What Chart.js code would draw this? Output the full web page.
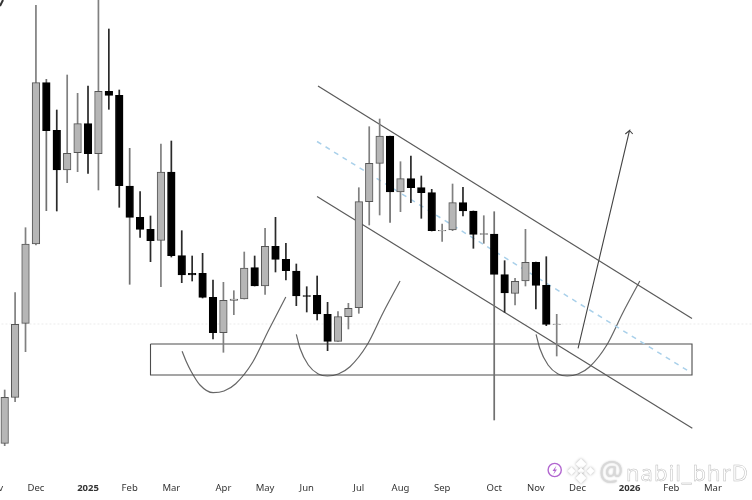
<!DOCTYPE html>
<html><head><meta charset="utf-8">
<style>html,body{margin:0;padding:0;background:#fff;overflow:hidden;width:752px;height:500px}
canvas{position:absolute;left:-20px;top:0;filter:blur(0.5px)}</style>
<script src="https://cdn.jsdelivr.net/npm/chart.js@4"></script>
</head><body><canvas id="c" width="772" height="500"></canvas>
<script>
const open_=[34.7,80.7,154.7,234,395.3,347.7,308,325.3,354.3,324.3,386.7,382.7,292,260.7,248.7,237.7,306,222.3,204.7,204.7,180.7,145.3,177.7,179,210.3,192,231.7,218.7,207,182.3,182.7,163.7,136.7,161.3,170.3,276.3,314.7,342,286,299.3,290.3,285.3,247.7,248,275.3,267,244.3,244,203.3,184.7,197,215.7,192.7,154];
const close_=[80.7,153.7,234,395.3,347.3,308,324.7,354.3,324.3,386.7,382.7,292.3,260.7,248.7,237.3,306,222.3,203,203,180.7,145.3,177.7,179,210,192,231.7,218.7,207.3,182,181.5,164,136.7,161.3,169.7,276.3,314.7,342,286,299.3,290.3,285.3,247.3,247,275.3,267,243.7,243.7,203.7,185,196.7,215.7,192.7,153.7,153.5];
const high_=[88,185.3,250.3,472.7,398.7,368,403,384.7,392,483,449,388,329.7,286.3,262,334,337,247.3,222,224.7,198,195.7,187.3,226,222,249.7,260.7,234.7,214,191.3,202,175.7,166.3,174.7,290.3,351.3,359,342,316.3,322,302,288.7,254,294,290.7,267,262.3,266.3,217.3,199.7,248.7,216,221.3,163.7];
const low_=[32.3,76.3,126.3,233,267.3,267,295.3,306.3,304.7,288,368.7,270.7,193.7,240.7,216.3,191.3,221,195.3,197,180,139,125.7,163.3,179,192,183.7,206,198,172.3,166,158,127.3,136.7,149,164.7,253,263,255.7,266.3,275.3,259.7,247,236.7,247.3,262,229.7,234.7,58,165.7,173,192,169,152.3,122];
const grayDoji=[42,46,53];
const grayWick=[4,12,37,47];
const tickPositions=[-1,3,8,12,16,21,25,29,34,38,42,47,51,55,60,64,68];
const tickLabels=["Nov","Dec","2025","Feb","Mar","Apr","May","Jun","Jul","Aug","Sep","Oct","Nov","Dec","2026","Feb","Mar"];
const upperChannel=[{x:30.08,y:392},{x:65.99,y:159.5}];
const lowerChannel=[{x:29.99,y:281.5},{x:66.02,y:49.7}];
const midChannel=[{x:29.99,y:336.5},{x:65.87,y:105.5}];
const zoneBox=[{x:14,y:134},{x:65.99,y:134},{x:65.99,y:103},{x:14,y:103},{x:14,y:134}];
const arrowPath=[{x:55.05,y:129.7},{x:59.99,y:347.5},{x:59.59,y:344},{x:59.99,y:347.5},{x:60.3,y:344}];
const curveA=[{x:17.03,y:126.7},{x:17.41,y:117},{x:17.88,y:107},{x:18.75,y:93},{x:20.01,y:85.3},{x:21.06,y:87},{x:22.18,y:94.3},{x:23.82,y:116},{x:25.35,y:148},{x:26.99,y:181}];
const curveB=[{x:28,y:143.7},{x:28.35,y:129.7},{x:29.15,y:113},{x:30.11,y:104},{x:30.98,y:102},{x:32.03,y:104},{x:33.15,y:111.3},{x:34.79,y:133},{x:36.32,y:165},{x:37.96,y:197}];
const curveC=[{x:51.02,y:143.7},{x:51.37,y:129.7},{x:52.17,y:113},{x:53.13,y:104},{x:54,y:102},{x:55.05,y:104},{x:56.17,y:111.3},{x:57.81,y:133},{x:59.34,y:165},{x:60.98,y:197}];
const priceLine=[{x:-3,y:154},{x:72,y:154}];
const cornerMark=[{x:-0.45,y:472},{x:-0.16,y:478}];

const idx=open_.map((_,i)=>i);
const isUp=i=>close_[i]>open_[i]||grayDoji.includes(i);
const wickData=idx.map(i=>({x:i,y:[low_[i],high_[i]]}));
const bodyData=idx.map(i=>({x:i,y:[open_[i],close_[i]]}));
const line=(data,extra)=>Object.assign({type:'line',data,borderColor:'#5a5a5a',borderWidth:1.2,pointRadius:0,fill:false,tension:0,order:5},extra||{});
const smooth={cubicInterpolationMode:'monotone',borderColor:'#666'};

const watermark={id:'watermark',afterDraw(chart){
  const c=chart.ctx,ox=20;c.save();
  c.strokeStyle='#b267d0';c.lineWidth=1.4;c.beginPath();c.arc(554.7+ox,470,6.6,0,Math.PI*2);c.stroke();
  c.fillStyle='#b267d0';c.beginPath();
  const bolt=[[556.5,465.5],[552.5,471],[554.7,471],[553.2,474.8],[557,469.4],[554.9,469.4]];
  bolt.forEach((p,i)=>i?c.lineTo(p[0]+ox,p[1]):c.moveTo(p[0]+ox,p[1]));c.closePath();c.fill();
  c.shadowColor='rgba(0,0,0,.35)';c.shadowBlur=3;c.fillStyle='#fff';
  const dia=(x,y,r)=>{c.beginPath();c.moveTo(x+ox,y-r);c.lineTo(x+r+ox,y);c.lineTo(x+ox,y+r);c.lineTo(x-r+ox,y);c.closePath();c.fill();};
  dia(581,464,5.5);dia(571.5,471,4);dia(590.5,471,4);dia(581,471,3.5);dia(581,478,5.5);
  c.shadowColor='rgba(0,0,0,.22)';c.shadowBlur=2;
  c.font='27px "Noto Sans"';c.textBaseline='alphabetic';c.fillStyle='#d8d8d8';
  c.fillText('@',599+ox,481);
  c.shadowBlur=0;
  c.font='22px "Noto Sans"';c.letterSpacing='1px';c.fillStyle='#fff';c.strokeStyle='#bdbdbd';c.lineWidth=0.5;
  c.fillText('nabil_bhrD',626+ox,481);c.strokeText('nabil_bhrD',626+ox,481);
  c.restore();
}};

new Chart(document.getElementById('c'),{
  type:'bar',
  data:{datasets:[
    {data:bodyData,barThickness:7.6,grouped:false,order:1,
     backgroundColor:idx.map(i=>isUp(i)?'#b6b6b6':'#000'),
     borderColor:idx.map(i=>isUp(i)?'#555':'#000'),borderWidth:1,borderSkipped:false},
    {data:wickData,barThickness:1.05,grouped:false,order:2,
     backgroundColor:idx.map(i=>grayWick.includes(i)?'#707070':(isUp(i)?'#808080':'#2a2a2a')),borderWidth:0},
    line(upperChannel),line(lowerChannel),
    line(midChannel,{borderColor:'#a9d0ea',borderWidth:1.5,borderDash:[5,5]}),
    line(zoneBox,{borderColor:'#4c4c4c',borderWidth:1.1}),
    line(arrowPath,{borderColor:'#444',borderWidth:1.1}),
    line(curveA,smooth),line(curveB,smooth),line(curveC,smooth),
    line(cornerMark,{borderColor:'#333',borderWidth:2}),
    line(priceLine,{borderColor:'#ececec',borderWidth:1,borderDash:[2,2],order:9})
  ]},
  options:{
    responsive:false,animation:false,devicePixelRatio:1,
    layout:{padding:0},
    plugins:{legend:{display:false},tooltip:{enabled:false}},
    scales:{
      x:{type:'linear',offset:false,min:-2.37,max:71.75,
        grid:{display:false,drawTicks:false},border:{display:false},
        afterBuildTicks(s){s.ticks=tickPositions.map(v=>({value:v}));},
        afterFit(s){s.height=22;},
        ticks:{autoSkip:false,maxRotation:0,padding:5,color:'#333',
          callback:v=>tickLabels[tickPositions.indexOf(v)],
          font:c=>({family:'"Noto Sans"',size:9.5,weight:/^20/.test(tickLabels[c.index]||'')?'bold':'normal'})}},
      y:{type:'linear',display:false,min:0,max:478,grid:{display:false}}
    }
  },
  plugins:[watermark]
});
</script></body></html>
